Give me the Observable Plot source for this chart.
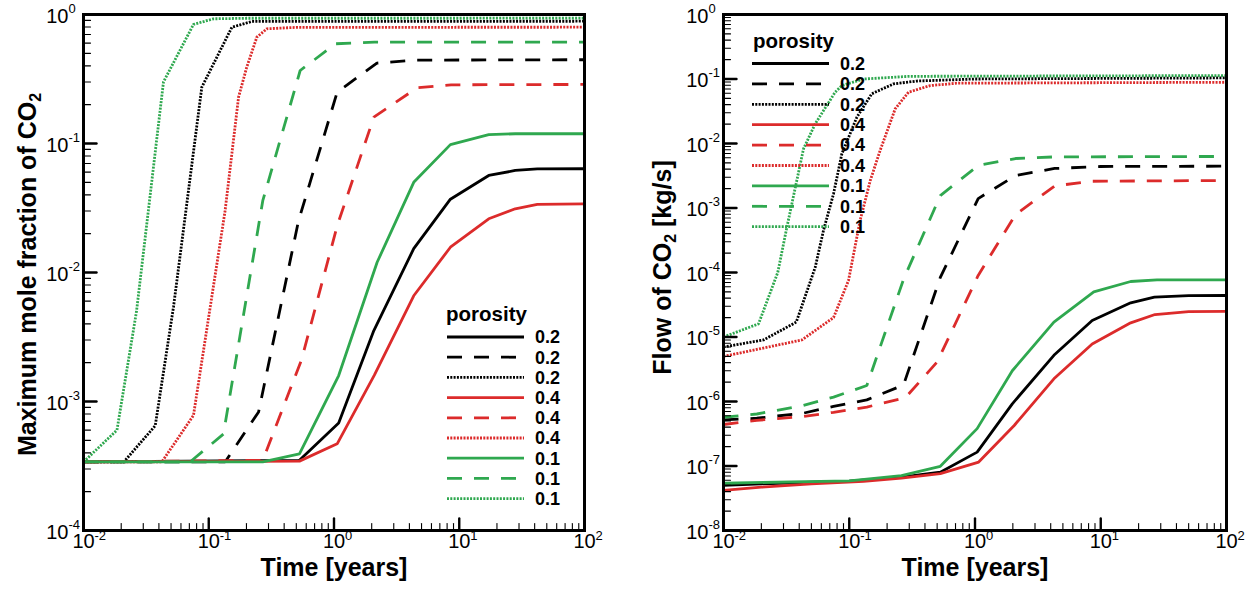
<!DOCTYPE html>
<html>
<head>
<meta charset="utf-8">
<script src="https://cdn.jsdelivr.net/npm/d3@7"></script>
<script src="https://cdn.jsdelivr.net/npm/@observablehq/plot@0.6"></script>
<style>
  html, body { margin: 0; padding: 0; background: #fff; }
  #wrap { position: relative; width: 1247px; height: 594px; overflow: hidden; font-family: "Liberation Sans", Arial, sans-serif; }
  #wrap > svg { position: absolute; top: 0; }
</style>
</head>
<body>
<div id="wrap"></div>
<script>
// ---------------- DATA ----------------
// Legend categories (order as in the legend)
const porosityLabels = ["0.2", "0.2", "0.2", "0.4", "0.4", "0.4", "0.1", "0.1", "0.1"];
const seriesColors = ["#000000", "#000000", "#000000", "#dc2b2b", "#dc2b2b", "#dc2b2b", "#2fa84f", "#2fa84f", "#2fa84f"];
const seriesStyles = ["solid", "dashed", "dotted", "solid", "dashed", "dotted", "solid", "dashed", "dotted"];

// Tick labels
const xTickValues = [0.01, 0.1, 1, 10, 100];
const xTickExponents = ["-2", "-1", "0", "1", "2"];
const leftYTickValues = [1e-4, 1e-3, 1e-2, 1e-1, 1];
const leftYTickExponents = ["-4", "-3", "-2", "-1", "0"];
const rightYTickValues = [1e-8, 1e-7, 1e-6, 1e-5, 1e-4, 1e-3, 1e-2, 1e-1, 1];
const rightYTickExponents = ["-8", "-7", "-6", "-5", "-4", "-3", "-2", "-1", "0"];

// Left panel: maximum mole fraction of CO2  [time (years), value]
const mole_02_solid = [[0.01,3.4e-4],[0.53,3.5e-4],[1.09,6.8e-4],[2.08,3.55e-3],[4.33,0.0153],[8.5,0.037],[17.2,0.0565],[28,0.0618],[42,0.0635],[100,0.0637]];
const mole_02_dash  = [[0.01,3.4e-4],[0.135,3.4e-4],[0.25,8.3e-4],[0.52,0.025],[1.06,0.25],[2.2,0.42],[4.4,0.443],[100,0.446]];
const mole_02_dot   = [[0.01,3.4e-4],[0.021,3.4e-4],[0.0374,6.5e-4],[0.0523,5.4e-3],[0.088,0.273],[0.153,0.797],[0.221,0.883],[100,0.887]];
const mole_04_solid = [[0.01,3.4e-4],[0.53,3.45e-4],[1.06,4.7e-4],[2.1,1.6e-3],[4.33,6.6e-3],[8.5,0.0157],[17.2,0.0261],[28,0.0312],[42,0.0337],[100,0.0341]];
const mole_04_dash  = [[0.01,3.4e-4],[0.27,3.5e-4],[0.55,2.1e-3],[1.06,0.023],[2.08,0.16],[4.6,0.27],[8.6,0.285],[100,0.287]];
const mole_04_dot   = [[0.01,3.4e-4],[0.0422,3.4e-4],[0.0755,7.8e-4],[0.135,0.03],[0.173,0.229],[0.201,0.39],[0.242,0.667],[0.291,0.775],[0.5,0.795],[100,0.797]];
const mole_01_solid = [[0.01,3.4e-4],[0.27,3.4e-4],[0.53,3.93e-4],[1.09,1.59e-3],[2.21,0.012],[4.33,0.05],[8.5,0.098],[17.2,0.117],[28,0.119],[100,0.119]];
const mole_01_dash  = [[0.01,3.4e-4],[0.071,3.4e-4],[0.131,5.6e-4],[0.27,0.036],[0.537,0.368],[1.03,0.593],[2.1,0.61],[100,0.61]];
const mole_01_dot   = [[0.01,3.4e-4],[0.0185,6.0e-4],[0.0265,5.0e-3],[0.0435,0.3],[0.0755,0.837],[0.109,0.926],[0.2,0.935],[100,0.936]];

// Right panel: flow of CO2 [kg/s]  [time (years), value]
const flow_02_solid = [[0.01,5.0e-8],[0.02,5.3e-8],[0.1,5.8e-8],[0.26,6.7e-8],[0.53,8.0e-8],[1.04,1.64e-7],[1.98,9.2e-7],[4.24,5.2e-6],[8.55,1.8e-5],[17.3,3.39e-5],[26.7,4.14e-5],[50,4.38e-5],[100,4.4e-5]];
const flow_02_dash  = [[0.01,5.2e-7],[0.0184,5.5e-7],[0.0433,6.6e-7],[0.075,8.4e-7],[0.138,1.06e-6],[0.27,1.8e-6],[0.53,8.4e-5],[1.06,1.4e-3],[2.1,3.19e-3],[4.3,4.1e-3],[10,4.4e-3],[100,4.45e-3]];
const flow_02_dot   = [[0.01,7.0e-6],[0.0208,9.0e-6],[0.0379,1.7e-5],[0.0536,1.2e-4],[0.0624,4.5e-4],[0.075,1.66e-3],[0.0873,6.9e-3],[0.115,0.0256],[0.151,0.059],[0.225,0.084],[0.344,0.093],[1,0.1],[100,0.104]];
const flow_04_solid = [[0.01,4.2e-8],[0.02,4.7e-8],[0.05,5.3e-8],[0.13,5.8e-8],[0.26,6.5e-8],[0.53,7.6e-8],[1.07,1.15e-7],[2.05,4.25e-7],[4.24,2.25e-6],[8.55,7.8e-6],[17.3,1.66e-5],[27,2.23e-5],[50,2.48e-5],[100,2.5e-5]];
const flow_04_dash  = [[0.01,4.4e-7],[0.0184,5.1e-7],[0.0433,5.85e-7],[0.075,6.8e-7],[0.138,8.2e-7],[0.28,1.15e-6],[0.5,4.1e-6],[1.06,9.0e-5],[2.1,7.9e-4],[4.3,2.2e-3],[8.6,2.6e-3],[100,2.67e-3]];
const flow_04_dot   = [[0.01,5.0e-6],[0.042,9.0e-6],[0.075,2.0e-5],[0.0986,7.5e-5],[0.122,6.4e-4],[0.147,2.67e-3],[0.176,7.8e-3],[0.232,0.0345],[0.296,0.0625],[0.44,0.079],[0.717,0.086],[100,0.089]];
const flow_01_solid = [[0.01,5.4e-8],[0.1,5.9e-8],[0.26,7.1e-8],[0.53,9.9e-8],[1.04,3.8e-7],[1.98,3.0e-6],[4.24,1.7e-5],[8.8,5.0e-5],[17.3,7.25e-5],[28,7.7e-5],[100,7.7e-5]];
const flow_01_dash  = [[0.01,5.7e-7],[0.0184,6.4e-7],[0.0433,8.7e-7],[0.075,1.17e-6],[0.138,1.77e-6],[0.27,7.8e-5],[0.53,1.56e-3],[1.06,4.56e-3],[2.1,5.85e-3],[4.3,6.2e-3],[100,6.3e-3]];
const flow_01_dot   = [[0.01,1.0e-5],[0.019,1.6e-5],[0.027,1.0e-4],[0.0319,5.0e-4],[0.0433,8.3e-3],[0.0536,0.0202],[0.0773,0.0625],[0.0873,0.079],[0.13,0.1],[0.3,0.11],[100,0.113]];

const leftSeries  = [mole_02_solid, mole_02_dash, mole_02_dot, mole_04_solid, mole_04_dash, mole_04_dot, mole_01_solid, mole_01_dash, mole_01_dot];
const rightSeries = [flow_02_solid, flow_02_dash, flow_02_dot, flow_04_solid, flow_04_dash, flow_04_dot, flow_01_solid, flow_01_dash, flow_01_dot];

// ---------------- STYLE ----------------
const FONT = "Liberation Sans, Arial, Helvetica, sans-serif";
const DASH = {solid: null, dashed: "15,12", dotted: "2,1.3"};
const LW = 2.8;
const svgNS = "http://www.w3.org/2000/svg";

function minorTicks(e0, e1) {
  const out = [];
  for (let e = e0; e < e1; e++) for (let m = 2; m <= 9; m++) out.push(m * Math.pow(10, e));
  return out;
}
const tickShape = {draw(ctx, l) { ctx.moveTo(0, 0); ctx.lineTo(0, -l); }};

function makePanel({series, yDomain, yTicks, yExps, yMinor, width, marginLeft, marginRight, yTitle, yTitleDx, yTitleDy}) {
  const marks = [];
  series.forEach((data, i) => {
    marks.push(Plot.line(data, {
      x: d => d[0], y: d => d[1],
      stroke: seriesColors[i], strokeWidth: LW,
      strokeDasharray: DASH[seriesStyles[i]],
      strokeLinecap: "butt", strokeLinejoin: "miter",
      clip: true
    }));
  });
  const xMinor = minorTicks(-2, 2);
  // inward ticks
  marks.push(Plot.vector(xTickValues, {x: d => d, frameAnchor: "bottom", length: 12, rotate: 0, anchor: "start", shape: tickShape, stroke: "#000", strokeWidth: 2.4}));
  marks.push(Plot.vector(xMinor, {x: d => d, frameAnchor: "bottom", length: 7, rotate: 0, anchor: "start", shape: tickShape, stroke: "#000", strokeWidth: 1.1}));
  marks.push(Plot.vector(yTicks, {y: d => d, frameAnchor: "left", length: 13, rotate: 90, anchor: "start", shape: tickShape, stroke: "#000", strokeWidth: 2.4}));
  marks.push(Plot.vector(yMinor, {y: d => d, frameAnchor: "left", length: 7, rotate: 90, anchor: "start", shape: tickShape, stroke: "#000", strokeWidth: 1.1}));
  // tick labels: "10" + superscript exponent
  marks.push(Plot.text(xTickValues, {x: d => d, frameAnchor: "bottom", text: () => "10", dy: 17, fontSize: 20, fontFamily: FONT, textAnchor: "middle", fill: "#000"}));
  marks.push(Plot.text(xTickValues, {x: d => d, frameAnchor: "bottom", text: (d, i) => xTickExponents[i], dx: 11, dy: 9, fontSize: 13, fontFamily: FONT, textAnchor: "start", fill: "#000"}));
  marks.push(Plot.text(yTicks, {y: d => d, frameAnchor: "left", text: () => "10", dx: -15, dy: 2, fontSize: 20, fontFamily: FONT, textAnchor: "end", fill: "#000"}));
  marks.push(Plot.text(yTicks, {y: d => d, frameAnchor: "left", text: (d, i) => yExps[i], dx: -15, dy: -6, fontSize: 13, fontFamily: FONT, textAnchor: "start", fill: "#000"}));
  // axis titles
  marks.push(Plot.text(["Time [years]"], {frameAnchor: "bottom", text: d => d, dy: 45, fontSize: 25, fontWeight: "bold", fontFamily: FONT, textAnchor: "middle", fill: "#000"}));
  marks.push(Plot.text([yTitle], {frameAnchor: "left", text: d => d, rotate: -90, dx: yTitleDx, dy: yTitleDy, fontSize: 25, fontWeight: "bold", fontFamily: FONT, textAnchor: "middle", fill: "#000"}));
  marks.push(Plot.frame({stroke: "#000", strokeWidth: 3}));
  return Plot.plot({
    width, height: 594,
    marginTop: 14, marginBottom: 64, marginLeft, marginRight,
    x: {type: "log", domain: [0.01, 100], axis: null},
    y: {type: "log", domain: yDomain, axis: null},
    style: {fontFamily: FONT, background: "transparent", overflow: "visible"},
    marks
  });
}

const wrap = document.getElementById("wrap");

const left = makePanel({
  series: leftSeries, yDomain: [1e-4, 1], yTicks: leftYTickValues, yExps: leftYTickExponents,
  yMinor: minorTicks(-4, 0), width: 623, marginLeft: 83, marginRight: 39,
  yTitle: "Maximum mole fraction of CO\u2082", yTitleDx: -56, yTitleDy: 2
});
left.style.left = "0px";
wrap.appendChild(left);

const right = makePanel({
  series: rightSeries, yDomain: [1e-8, 1], yTicks: rightYTickValues, yExps: rightYTickExponents,
  yMinor: minorTicks(-8, 0), width: 624, marginLeft: 100, marginRight: 21,
  yTitle: "Flow of CO\u2082 [kg/s]", yTitleDx: -61, yTitleDy: -5
});
right.style.left = "623px";
wrap.appendChild(right);

// subscript "2" in titles
function subscriptify(root) {
  root.querySelectorAll("text").forEach(t => {
    const walker = document.createTreeWalker(t, NodeFilter.SHOW_TEXT);
    const nodes = [];
    while (walker.nextNode()) nodes.push(walker.currentNode);
    nodes.forEach(n => {
      const s = n.nodeValue, i = s.indexOf("\u2082");
      if (i < 0) return;
      const p = n.parentNode;
      const before = document.createTextNode(s.slice(0, i));
      const sub = document.createElementNS(svgNS, "tspan");
      sub.setAttribute("dy", "5"); sub.setAttribute("font-size", "16"); sub.textContent = "2";
      const after = document.createElementNS(svgNS, "tspan");
      after.setAttribute("dy", "-5"); after.textContent = s.slice(i + 1);
      p.insertBefore(before, n); p.insertBefore(sub, n); p.insertBefore(after, n); p.removeChild(n);
    });
  });
}
subscriptify(left); subscriptify(right);

// ---------------- LEGENDS (overlay) ----------------
const overlay = d3.select(wrap).append("svg")
  .attr("width", 1247).attr("height", 594)
  .style("left", "0px").style("pointer-events", "none");

function drawLegend(g, {titleX, titleY, lineX1, lineX2, labelX, y0, step}) {
  g.append("text").attr("x", titleX).attr("y", titleY).attr("dy", "0.35em")
    .attr("font-family", FONT).attr("font-size", 20.5).attr("font-weight", "bold").text("porosity");
  porosityLabels.forEach((lab, i) => {
    const y = y0 + i * step;
    g.append("line").attr("x1", lineX1).attr("x2", lineX2).attr("y1", y).attr("y2", y)
      .attr("stroke", seriesColors[i]).attr("stroke-width", LW)
      .attr("stroke-dasharray", DASH[seriesStyles[i]]);
    g.append("text").attr("x", labelX).attr("y", y).attr("dy", "0.35em")
      .attr("font-family", FONT).attr("font-size", 18).attr("font-weight", "bold").text(lab);
  });
}
drawLegend(overlay.append("g"), {titleX: 446, titleY: 314, lineX1: 447, lineX2: 524, labelX: 535, y0: 337, step: 20.2});
drawLegend(overlay.append("g"), {titleX: 753, titleY: 41, lineX1: 752, lineX2: 829, labelX: 840, y0: 63.5, step: 20.4});
</script>
</body>
</html>
